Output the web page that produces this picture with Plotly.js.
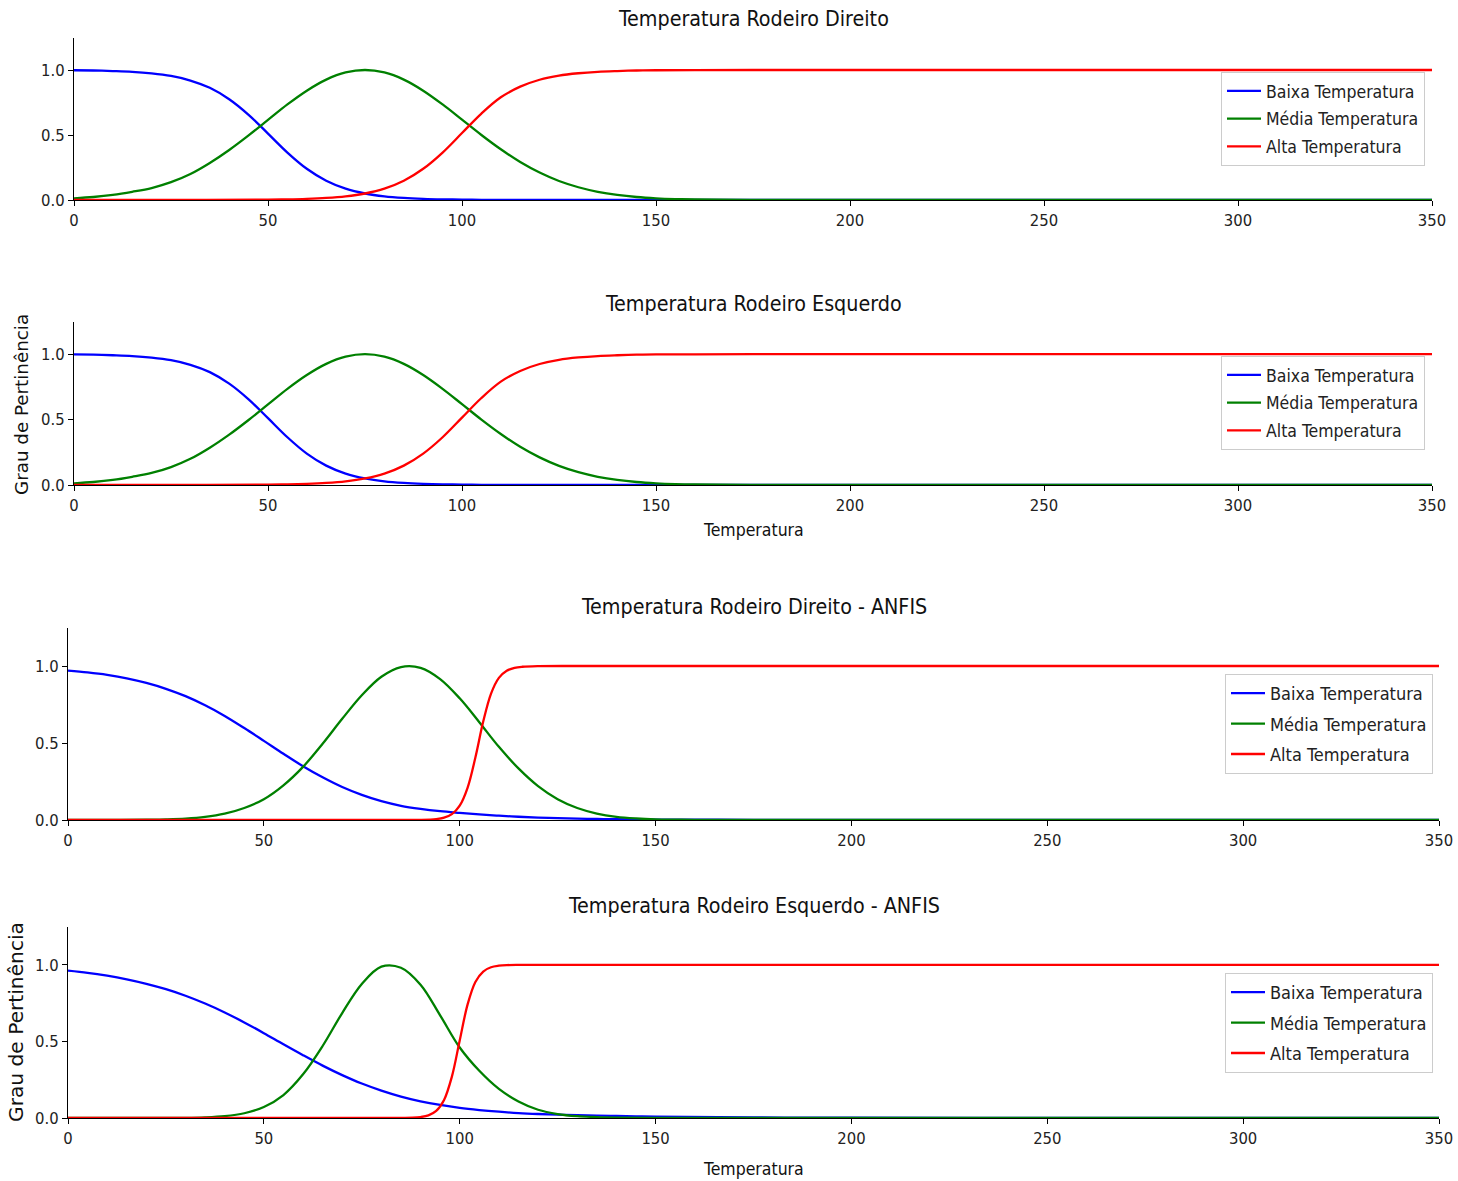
<!DOCTYPE html>
<html>
<head>
<meta charset="utf-8">
<script src="https://cdn.plot.ly/plotly-3.0.1.min.js"></script>
<style>html,body{margin:0;padding:0;background:#fff;}#chart{width:1458px;height:1181px;}</style>
</head>
<body>
<div id="chart"></div>
<script>
// ---------- data ----------
const seriesNames = ["Baixa Temperatura", "Média Temperatura", "Alta Temperatura"];
const panelTitles = ["Temperatura Rodeiro Direito", "Temperatura Rodeiro Esquerdo",
                     "Temperatura Rodeiro Direito - ANFIS", "Temperatura Rodeiro Esquerdo - ANFIS"];
const xTickVals = [0, 50, 100, 150, 200, 250, 300, 350];
const yTickVals = [0, 0.5, 1.0];
const yTickText = ["0.0", "0.5", "1.0"];

// Panel 1: Rodeiro Direito
const xBaixaRD = [0,5,10,15,20,25,30,35,40,45,50,55,60,65,70,75,80,85,90,95,100,105,110,115,120,150,200,250,300,350];
const yBaixaRD = [0.998,0.996,0.992,0.986,0.974,0.954,0.919,0.863,0.775,0.655,0.511,0.365,0.240,0.148,0.087,0.050,0.028,0.016,0.009,0.005,0.003,0.0015,0.001,0.0005,0.0003,0,0,0,0,0];
const xMediaRD = [0,5,10,15,20,25,30,35,40,45,50,55,60,65,70,75,80,85,90,95,100,105,110,115,120,125,130,135,140,145,150,155,160,175,200,250,300,350];
const yMediaRD = [0.013,0.023,0.039,0.063,0.092,0.137,0.200,0.285,0.385,0.497,0.616,0.735,0.841,0.926,0.981,1.0,0.981,0.926,0.841,0.735,0.618,0.500,0.390,0.292,0.211,0.146,0.098,0.063,0.039,0.023,0.013,0.007,0.004,0.001,0,0,0,0];
const xAltaRD = [0,30,50,55,60,65,70,75,80,85,90,95,100,105,110,115,120,125,130,135,140,145,150,160,175,200,250,300,350];
const yAltaRD = [0,0.0003,0.003,0.005,0.009,0.016,0.028,0.050,0.087,0.148,0.240,0.365,0.515,0.665,0.790,0.872,0.925,0.957,0.975,0.986,0.992,0.996,0.998,0.999,1,1,1,1,1];

// Panel 2: Rodeiro Esquerdo
const xBaixaRE = [0,5,10,15,20,25,30,35,40,45,50,55,60,65,70,75,80,85,90,95,100,105,110,115,120,150,200,250,300,350];
const yBaixaRE = [0.998,0.996,0.992,0.986,0.974,0.954,0.919,0.863,0.775,0.655,0.511,0.365,0.240,0.148,0.087,0.050,0.028,0.016,0.009,0.005,0.003,0.0015,0.001,0.0005,0.0003,0,0,0,0,0];
const xMediaRE = [0,5,10,15,20,25,30,35,40,45,50,55,60,65,70,75,80,85,90,95,100,105,110,115,120,125,130,135,140,145,150,155,160,175,200,250,300,350];
const yMediaRE = [0.013,0.023,0.039,0.063,0.092,0.137,0.200,0.285,0.385,0.497,0.616,0.735,0.841,0.926,0.981,1.0,0.981,0.926,0.841,0.735,0.618,0.500,0.390,0.292,0.211,0.146,0.098,0.063,0.039,0.023,0.013,0.007,0.004,0.001,0,0,0,0];
const xAltaRE = [0,30,50,55,60,65,70,75,80,85,90,95,100,105,110,115,120,125,130,135,140,145,150,160,175,200,250,300,350];
const yAltaRE = [0,0.0003,0.003,0.005,0.009,0.016,0.028,0.050,0.087,0.148,0.240,0.365,0.515,0.665,0.790,0.872,0.925,0.957,0.975,0.986,0.992,0.996,0.998,0.999,1,1,1,1,1];

// Panel 3: Rodeiro Direito - ANFIS
const xBaixaRDA = [0,5,10,15,20,25,30,35,40,45,50,55,60,65,70,75,80,85,90,95,100,105,110,115,120,125,130,135,140,145,150,175,200,250,300,350];
const yBaixaRDA = [0.970,0.958,0.942,0.920,0.890,0.852,0.804,0.745,0.676,0.597,0.514,0.430,0.349,0.277,0.214,0.163,0.122,0.092,0.072,0.057,0.046,0.036,0.028,0.021,0.016,0.012,0.009,0.007,0.005,0.004,0.003,0.001,0,0,0,0];
const xMediaRDA = [0,10,20,25,30,35,40,45,50,55,60,65,70,75,80,85,90,95,100,105,110,115,120,125,130,135,140,145,150,155,160,175,200,250,300,350];
const yMediaRDA = [0,0.0002,0.0015,0.004,0.009,0.020,0.041,0.078,0.135,0.225,0.345,0.495,0.657,0.810,0.930,0.993,0.988,0.915,0.790,0.635,0.475,0.335,0.220,0.135,0.078,0.042,0.021,0.010,0.004,0.002,0.001,0,0,0,0,0];
const xAltaRDA = [0,80,90,94,96,98,100,102,104,106,108,110,112,114,116,120,130,150,200,250,300,350];
const yAltaRDA = [0,0,0.001,0.006,0.015,0.038,0.093,0.209,0.406,0.639,0.821,0.923,0.969,0.988,0.995,0.999,1,1,1,1,1,1];

// Panel 4: Rodeiro Esquerdo - ANFIS
const xBaixaREA = [0,5,10,15,20,25,30,35,40,45,50,55,60,65,70,75,80,85,90,95,100,105,110,115,120,125,130,135,140,145,150,175,200,250,300,350];
const yBaixaREA = [0.962,0.948,0.929,0.905,0.876,0.841,0.798,0.747,0.689,0.624,0.554,0.481,0.410,0.342,0.280,0.225,0.179,0.140,0.109,0.085,0.066,0.052,0.041,0.032,0.026,0.022,0.018,0.015,0.013,0.011,0.009,0.004,0.002,0.001,0,0];
const xMediaREA = [0,30,35,40,45,50,55,60,65,70,75,80,85,90,95,100,105,110,115,120,125,130,135,140,150,175,200,250,300,350];
const yMediaREA = [0,0.001,0.004,0.012,0.031,0.072,0.150,0.285,0.470,0.685,0.875,0.988,0.981,0.870,0.670,0.460,0.308,0.190,0.108,0.054,0.026,0.012,0.006,0.003,0.001,0,0,0,0,0];
const xAltaREA = [0,80,88,90,92,94,96,98,100,102,104,106,108,110,112,115,120,150,200,250,300,350];
const yAltaREA = [0,0,0.002,0.006,0.017,0.046,0.118,0.270,0.506,0.740,0.888,0.956,0.984,0.994,0.998,0.9995,1,1,1,1,1,1];

// ---------- styling ----------
const colors = ["#0000ff", "#008000", "#ff0000"];
const FONT = "DejaVu Sans Condensed, DejaVu Sans, sans-serif";
const FONT_R = "DejaVu Sans, sans-serif";
const TXT = "#222222";
const W = 1458, H = 1181;
const px = v => v / W;
const py = v => (H - v) / H;

const panels = [
  {xs:[xBaixaRD,xMediaRD,xAltaRD], ys:[yBaixaRD,yMediaRD,yAltaRD], xdom:[74,1432], ybot:200, ytop:37.5, legTop:72, legRight:1425, titleY:18, legFont:17.5, legGap:2},
  {xs:[xBaixaRE,xMediaRE,xAltaRE], ys:[yBaixaRE,yMediaRE,yAltaRE], xdom:[74,1432], ybot:485, ytop:321.5, legTop:356, legRight:1425, titleY:303, legFont:17.5, legGap:2},
  {xs:[xBaixaRDA,xMediaRDA,xAltaRDA], ys:[yBaixaRDA,yMediaRDA,yAltaRDA], xdom:[68,1439], ybot:820, ytop:627.5, legTop:674, legRight:1433, titleY:607, legFont:18, legGap:4},
  {xs:[xBaixaREA,xMediaREA,xAltaREA], ys:[yBaixaREA,yMediaREA,yAltaREA], xdom:[68,1439], ybot:1118, ytop:926.5, legTop:973, legRight:1433, titleY:906, legFont:18, legGap:4}
];

const traces = [];
const layout = {
  width: W, height: H,
  margin: {l:0, r:0, t:0, b:0},
  paper_bgcolor: "#ffffff",
  plot_bgcolor: "#ffffff",
  showlegend: true,
  annotations: []
};

panels.forEach((p, i) => {
  const n = i + 1;
  const xa = n === 1 ? "x" : "x" + n;
  const ya = n === 1 ? "y" : "y" + n;
  const legName = n === 1 ? "legend" : "legend" + n;
  for (let s = 0; s < 3; s++) {
    traces.push({
      type: "scatter", mode: "lines",
      x: p.xs[s], y: p.ys[s],
      name: seriesNames[s],
      xaxis: xa, yaxis: ya,
      legend: legName,
      legendgroup: "g" + n + "_" + s,
      line: {color: colors[s], width: 2.3, shape: "spline", smoothing: 1}
    });
  }
  const axCommon = {
    showline: true, linecolor: "#000000", linewidth: 1,
    ticks: "outside", ticklen: 5, tickwidth: 1, tickcolor: "#000000",
    showgrid: false, zeroline: false, mirror: false,
    tickfont: {family: FONT, size: 16.5, color: TXT}
  };
  layout[n === 1 ? "xaxis" : "xaxis" + n] = Object.assign({}, axCommon, {
    domain: [px(p.xdom[0]), px(p.xdom[1])],
    range: [0, 350], tickmode: "array", tickvals: xTickVals,
    anchor: ya
  });
  layout[n === 1 ? "yaxis" : "yaxis" + n] = Object.assign({}, axCommon, {
    domain: [py(p.ybot), py(p.ytop)],
    range: [0, 1.25], tickmode: "array", tickvals: yTickVals, ticktext: yTickText,
    anchor: xa
  });
  layout[legName] = {
    x: px(p.legRight), y: py(p.legTop), xanchor: "right", yanchor: "top",
    xref: "paper", yref: "paper",
    bgcolor: "rgba(255,255,255,0.8)", bordercolor: "#cccccc", borderwidth: 1,
    font: {family: FONT, size: p.legFont, color: TXT},
    tracegroupgap: p.legGap, itemwidth: 34
  };
  layout.annotations.push({
    text: panelTitles[i], xref: "paper", yref: "paper",
    x: px((p.xdom[0] + p.xdom[1]) / 2), y: py(p.titleY),
    xanchor: "center", yanchor: "middle", showarrow: false,
    font: {family: FONT, size: 21.3, color: "#111111"}
  });
});

// axis titles (x) and y labels
layout.annotations.push(
  {text: "Temperatura", xref: "paper", yref: "paper", x: px(753), y: py(530), xanchor: "center", yanchor: "middle", showarrow: false, font: {family: FONT, size: 17.5, color: "#111111"}},
  {text: "Temperatura", xref: "paper", yref: "paper", x: px(753.5), y: py(1169), xanchor: "center", yanchor: "middle", showarrow: false, font: {family: FONT, size: 17.5, color: "#111111"}},
  {text: "Grau de Pertinência", xref: "paper", yref: "paper", x: px(22), y: py(405), xanchor: "center", yanchor: "middle", textangle: -90, showarrow: false, font: {family: FONT_R, size: 18.3, color: "#111111"}},
  {text: "Grau de Pertinência", xref: "paper", yref: "paper", x: px(16), y: py(1022), xanchor: "center", yanchor: "middle", textangle: -90, showarrow: false, font: {family: FONT_R, size: 20.2, color: "#111111"}}
);

Plotly.newPlot("chart", traces, layout, {staticPlot: true, displayModeBar: false});
</script>
</body>
</html>
